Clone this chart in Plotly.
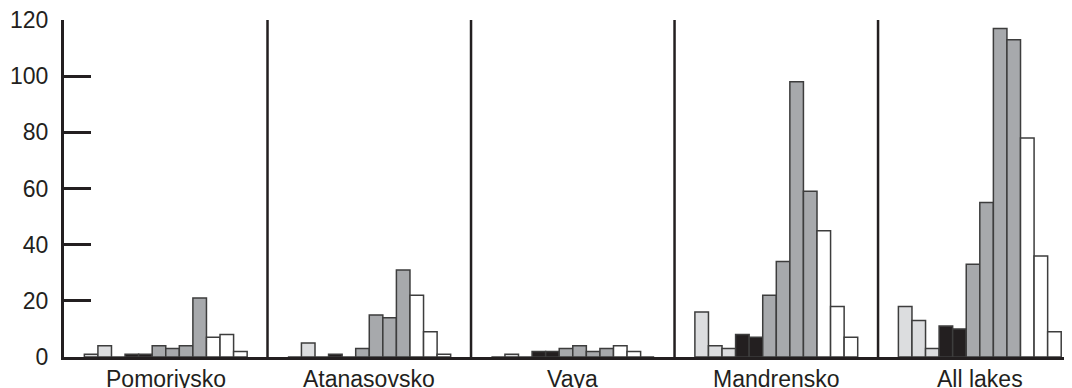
import plotly.graph_objects as go

lakes = ["Pomoriysko", "Atanasovsko", "Vaya", "Mandrensko", "All lakes"]

# 12 classes per lake (left to right within each group)
pomoriysko = [1, 4, 0, 1, 1, 4, 3, 4, 21, 7, 8, 2]
atanasovsko = [0, 5, 0, 1, 0, 3, 15, 14, 31, 22, 9, 1]
vaya = [0, 1, 0, 2, 2, 3, 4, 2, 3, 4, 2, 0]
mandrensko = [16, 4, 3, 8, 7, 22, 34, 98, 59, 45, 18, 7]
all_lakes = [18, 13, 3, 11, 10, 33, 55, 117, 113, 78, 36, 9]

class_names = [f"Class {i}" for i in range(1, 13)]
class_colors = ["#dcdddf"] * 3 + ["#231f20"] * 2 + ["#a7a9ac"] * 4 + ["#ffffff"] * 3

y_ticks = [0, 20, 40, 60, 80, 100, 120]

table = [pomoriysko, atanasovsko, vaya, mandrensko, all_lakes]

fig = go.Figure()
for k, name in enumerate(class_names):
    fig.add_trace(go.Bar(
        x=lakes,
        y=[row[k] for row in table],
        name=name,
        marker=dict(color=class_colors[k], line=dict(color="#3d3d3d", width=1.5)),
        showlegend=False,
    ))

ink = "#231f20"
for i in range(len(lakes) - 1):
    fig.add_shape(type="line", xref="x", yref="paper", x0=i + 0.5, x1=i + 0.5,
                  y0=0, y1=1, line=dict(color=ink, width=2.5), layer="above")

for lake in lakes:
    fig.add_annotation(x=lake, xref="x", y=0, yref="paper", text=lake,
                       showarrow=False, yanchor="top", yshift=-7,
                       font=dict(size=23, color=ink))

# page body has an 8px default margin, so the figure is offset by 8px
fig.update_layout(
    width=1064, height=380,
    margin=dict(l=56, r=0, t=12, b=31),
    plot_bgcolor="white", paper_bgcolor="white",
    barmode="group", bargap=0.2, bargroupgap=0,
    font=dict(family="Liberation Sans, Arial, sans-serif", size=22, color=ink),
)
fig.update_xaxes(
    type="category", range=[-0.5, 4.453],
    showline=True, linecolor=ink, linewidth=2.5,
    ticks="", showgrid=False, zeroline=False, showticklabels=False,
    automargin=False,
)
fig.update_yaxes(
    range=[0, 120], tickvals=y_ticks,
    showline=True, linecolor=ink, linewidth=3,
    ticks="inside", ticklen=27, tickwidth=3, tickcolor=ink,
    showgrid=False, zeroline=False,
    tickfont=dict(size=23, color=ink),
    ticklabelstandoff=8, automargin=False, ticklabeloverflow="allow",
)

fig.write_html("out.html")
